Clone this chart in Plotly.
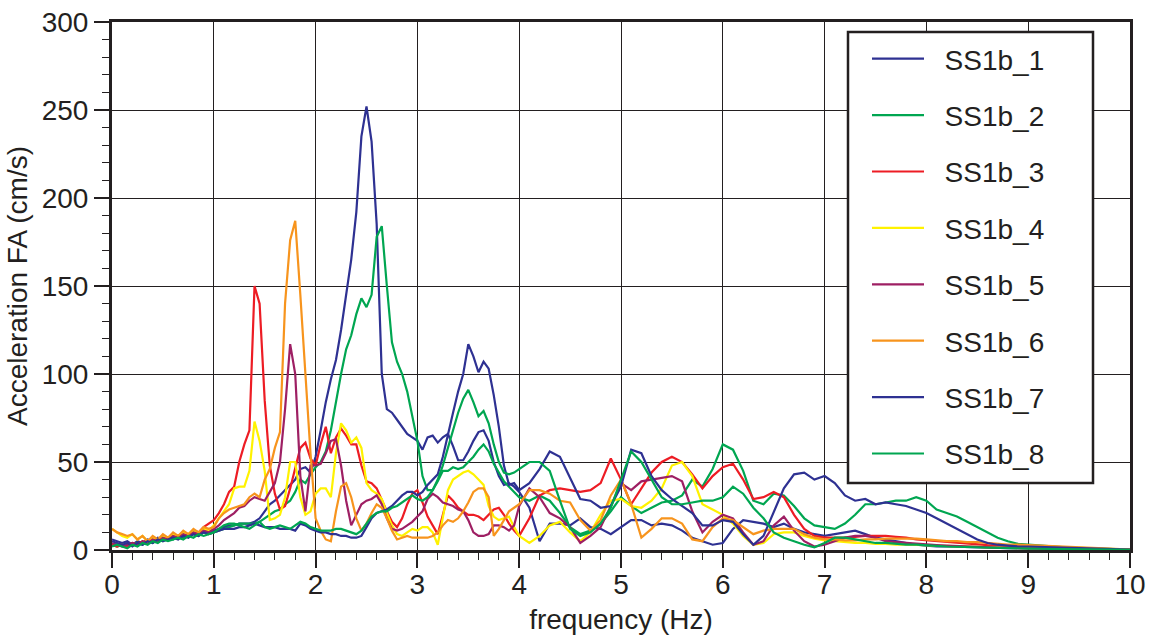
import plotly.graph_objects as go

# Frequency axis (Hz): 0.05 Hz steps up to 3.95 Hz, then 0.1 Hz steps to 10 Hz
freq = [round(0.05 * i, 2) for i in range(80)] + [round(4.0 + 0.1 * i, 1) for i in range(61)]

ss1b_1 = [6, 5, 4, 5, 3, 5, 4, 6, 5, 7, 6, 7, 8, 7, 9, 8, 10, 9, 11, 10,
          11, 12, 13, 14, 14, 15, 15, 15, 16, 18, 22, 26, 28, 31, 34, 37, 40, 46, 47, 44,
          53, 68, 84, 97, 108, 125, 145, 165, 192, 235, 252, 232, 185, 100, 80, 78, 74, 70, 66, 64,
          62, 57, 64, 65, 61, 64, 66, 59, 51, 51, 56, 62, 67, 68, 62, 50, 42, 37, 38, 36,
          33, 24, 5, 15, 15, 14, 18, 13, 12, 9,
          13, 17, 17, 14, 15, 14, 11, 7, 5, 3,
          4, 12, 17, 16, 15, 13, 15, 12, 10, 9,
          8, 9, 10, 11, 9, 7, 6, 5, 4, 3,
          2.5, 2, 2, 1.8, 1.5, 1.5, 1.3, 1.2, 1, 1,
          1, 0.9, 0.8, 0.7, 0.6, 0.5, 0.4, 0.3, 0.3, 0.2, 0.1]

ss1b_2 = [3, 2, 3, 2, 3, 4, 3, 5, 4, 6, 5, 7, 6, 8, 7, 8, 9, 8, 10, 9,
          10, 11, 12, 13, 14, 15, 15, 15, 15, 16, 18, 20, 22, 23, 26, 28, 33, 40, 38, 43,
          47, 50, 56, 68, 85, 100, 114, 122, 134, 143, 138, 145, 178, 184, 150, 118, 107, 100, 90, 76,
          62, 42, 34, 34, 39, 45, 45, 47, 46, 47, 50, 53, 57, 60, 56, 49, 44, 39, 36, 33,
          30, 28, 31, 28, 21, 13, 9, 11, 15, 22,
          30, 25, 21, 24, 27, 28, 31, 40, 36, 46,
          60, 57, 45, 28, 26, 32, 31, 25, 18, 14,
          13, 12, 15, 20, 26, 26, 27, 28, 28, 30,
          28, 23, 21, 19, 16, 13, 10, 7, 5, 3.5,
          3, 2.5, 2, 1.7, 1.4, 1.2, 1, 0.8, 0.6, 0.4, 0.2]

ss1b_3 = [3, 2, 3, 2, 4, 3, 5, 4, 6, 5, 7, 6, 8, 7, 9, 8, 11, 10, 13, 15,
          17, 21, 26, 33, 36, 50, 60, 68, 150, 140, 85, 48, 32, 23, 25, 35, 47, 58, 61, 52,
          48, 60, 70, 55, 64, 69, 65, 60, 60, 48, 39, 38, 35, 28, 22, 16, 13, 18, 26, 32,
          34, 27, 19, 14, 9, 20, 31, 28, 24, 22, 20, 20, 19, 17, 20, 23, 24, 20, 15, 11,
          8, 18, 31, 34, 35, 34, 33, 34, 38, 52,
          40, 26, 35, 44, 50, 53, 50, 43, 35, 42,
          47, 49, 40, 29, 30, 33, 30, 20, 12, 8,
          7, 7, 7, 7.5, 8, 8, 8, 7.5, 7, 6,
          5.5, 5, 4.5, 4, 3.5, 3, 2.8, 2.5, 2.2, 2,
          1.8, 1.5, 1.3, 1.1, 0.9, 0.8, 0.6, 0.5, 0.4, 0.3, 0.2]

ss1b_4 = [12, 10, 8, 7, 9, 6, 8, 5, 7, 6, 8, 7, 9, 8, 10, 9, 11, 10, 12, 11,
          14, 18, 22, 26, 35, 36, 36, 45, 73, 62, 45, 17, 18, 20, 30, 50, 50, 30, 20, 22,
          32, 35, 35, 30, 55, 72, 68, 61, 64, 58, 38, 34, 32, 29, 21, 14, 9, 8, 10, 12,
          11, 13, 13, 10, 3, 18, 34, 40, 42, 44, 45, 43, 40, 37, 25, 19, 17, 18, 19, 13,
          8, 4, 8, 14, 16, 10, 5, 10, 20, 28,
          29, 25, 24, 28, 35, 48, 50, 42, 26, 23,
          20, 15, 8, 3, 4, 9, 10, 10, 8, 6.5,
          5.5, 5, 4.5, 4, 4, 3.5, 3.5, 3, 3, 3,
          2.8, 2.5, 2.3, 2, 1.8, 1.6, 1.4, 1.2, 1, 0.9,
          0.8, 0.7, 0.6, 0.5, 0.4, 0.3, 0.3, 0.2, 0.2, 0.1, 0.1]

ss1b_5 = [4, 3, 2, 3, 4, 3, 5, 4, 6, 5, 7, 6, 8, 7, 9, 8, 10, 9, 11, 10,
          12, 14, 17, 19, 21, 24, 25, 28, 30, 29, 28, 33, 38, 50, 80, 117, 100, 42, 22, 48,
          48, 49, 55, 62, 63, 48, 28, 14, 20, 26, 28, 29, 31, 26, 18, 12, 11, 12, 14, 16,
          19, 22, 29, 32, 30, 27, 26, 25, 23, 22, 17, 10, 8, 8, 9, 14, 14, 13, 11, 14,
          25, 35, 30, 21, 18, 13, 4, 8, 13, 25,
          38, 34, 39, 40, 41, 42, 39, 22, 10, 16,
          20, 18, 10, 3, 5, 14, 19, 11, 5, 2,
          3, 5, 7, 8, 8, 7, 5, 4.5, 4, 3.5,
          3, 2.8, 2.5, 2.2, 2, 1.8, 1.6, 1.4, 1.2, 1,
          0.9, 0.8, 0.7, 0.6, 0.5, 0.4, 0.3, 0.3, 0.2, 0.2, 0.1]

ss1b_6 = [12, 10, 9, 8, 9, 6, 8, 5, 8, 6, 9, 7, 10, 8, 11, 9, 12, 10, 13, 12,
          13, 18, 21, 23, 24, 25, 26, 30, 32, 30, 40, 46, 58, 67, 140, 176, 187, 145, 100, 55,
          18, 11, 6, 5, 22, 36, 38, 30, 18, 11, 15, 21, 26, 24, 18, 11, 6, 7, 8, 7,
          7, 7, 7, 8, 10, 14, 17, 16, 18, 22, 27, 33, 35, 35, 30, 8, 12, 17, 22, 24,
          26, 34, 34, 32, 28, 27, 17, 11, 17, 31,
          40, 26, 7, 12, 18, 18, 15, 6, 5, 13,
          18, 17, 13, 9, 11, 12, 12, 12, 9, 7,
          6, 6, 5.5, 5.5, 6, 6, 6.5, 6.5, 6.5, 6.5,
          6, 5.5, 5, 5, 4.5, 4.5, 4, 3.5, 3, 3,
          2.8, 2.5, 2.2, 1.9, 1.6, 1.4, 1.2, 1, 0.8, 0.5, 0.2]

ss1b_7 = [5, 4, 3, 4, 2, 4, 3, 5, 4, 6, 5, 6, 7, 6, 8, 7, 9, 8, 10, 9,
          10, 11, 12, 12, 12, 13, 13, 14, 15, 14, 13, 13, 13, 12, 12, 12, 11, 15, 14, 12,
          11, 10, 10, 9, 9, 8, 8, 7, 7, 8, 13, 18, 21, 22, 23, 25, 28, 31, 33, 33,
          31, 33, 37, 40, 43, 53, 66, 78, 90, 100, 117, 110, 101, 107, 103, 88, 70, 48, 37, 38,
          34, 38, 46, 56, 53, 41, 29, 28, 24, 25,
          36, 57, 55, 42, 34, 29, 25, 21, 14, 14,
          17, 16, 9, 3, 8, 22, 35, 43, 44, 40,
          42, 38, 31, 28, 29, 26, 27, 26, 25, 23,
          21, 18, 15, 12, 9, 6, 4, 3, 2.5, 2,
          2, 1.8, 1.5, 1.3, 1.1, 1, 0.8, 0.6, 0.5, 0.3, 0.2]

ss1b_8 = [2, 3, 2, 1, 3, 2, 4, 3, 5, 4, 6, 5, 6, 7, 6, 8, 7, 9, 8, 9,
          10, 12, 14, 15, 15, 14, 13, 12, 14, 16, 13, 12, 13, 14, 13, 12, 14, 16, 15, 13,
          12, 11, 11, 11, 12, 12, 11, 10, 9, 11, 15, 19, 21, 22, 22, 24, 25, 27, 29, 31,
          29, 28, 30, 34, 40, 48, 58, 68, 78, 86, 91, 84, 76, 79, 72, 60, 50, 44, 43, 44,
          46, 50, 50, 45, 28, 12, 8, 10, 15, 24,
          40, 56, 50, 40, 30, 26, 26, 27, 28, 28,
          30, 36, 32, 24, 18, 10, 7, 5, 3, 1.5,
          4, 7, 7, 6, 5, 4, 4, 3.5, 3, 3,
          2.5, 2.3, 2, 1.8, 1.6, 1.4, 1.2, 1, 1, 0.9,
          0.8, 0.7, 0.6, 0.5, 0.5, 0.4, 0.3, 0.3, 0.2, 0.2, 0.1]

names = ["SS1b_1", "SS1b_2", "SS1b_3", "SS1b_4", "SS1b_5", "SS1b_6", "SS1b_7", "SS1b_8"]
values = [ss1b_1, ss1b_2, ss1b_3, ss1b_4, ss1b_5, ss1b_6, ss1b_7, ss1b_8]
colors = ["#2E3192", "#00A651", "#ED1C24", "#FFF200", "#9E1F63", "#F7941D", "#2E3192", "#00A651"]

ink = "#231f20"
fig = go.Figure()
for name, vals, color in zip(names, values, colors):
    assert len(vals) == len(freq)
    fig.add_trace(go.Scatter(
        x=freq, y=vals, mode="lines", name="\u00a0\u00a0" + name,
        legendgroup=name, line=dict(color=color, width=2.2),
    ))

axis_common = dict(
    ticks="outside", ticklen=15, tickwidth=1.5, tickcolor=ink,
    showline=True, linewidth=3, linecolor=ink, mirror=True,
    showgrid=True, gridcolor=ink, gridwidth=1.3, zeroline=False,
    tickfont=dict(size=28, color=ink),
)

fig.update_layout(
    width=1150, height=642,
    margin=dict(l=112, r=20, t=22, b=92, autoexpand=False),
    paper_bgcolor="white", plot_bgcolor="white",
    font=dict(family="Liberation Sans, Arial, sans-serif", size=28, color=ink),
    xaxis=dict(range=[0, 10], tick0=0, dtick=1, ticklabelstandoff=-8,
               minor=dict(dtick=0.2, ticks="outside", ticklen=7, tickwidth=1.2,
                          tickcolor=ink, showgrid=False),
               title=dict(text="frequency (Hz)", standoff=11, font=dict(size=28)),
               **axis_common),
    yaxis=dict(range=[0, 300], tick0=0, dtick=50,
               minor=dict(dtick=10, ticks="outside", ticklen=7, tickwidth=1.2,
                          tickcolor=ink, showgrid=False),
               title=dict(text="Acceleration FA (cm/s)", standoff=6, font=dict(size=28)),
               **axis_common),
    showlegend=True,
    legend=dict(x=(867 - 112) / 1018, y=(550 - 34) / 528, xanchor="left", yanchor="top",
                bgcolor="rgba(0,0,0,0)", borderwidth=0, traceorder="grouped",
                tracegroupgap=17, itemwidth=52, font=dict(size=28, color=ink)),
    shapes=[dict(type="rect", xref="paper", yref="paper",
                 x0=(848 - 112) / 1018, x1=(1093 - 112) / 1018,
                 y0=(550 - 483) / 528, y1=(550 - 32) / 528,
                 line=dict(color=ink, width=2.5), fillcolor="white", layer="above")],
)

fig.write_html("out.html")
